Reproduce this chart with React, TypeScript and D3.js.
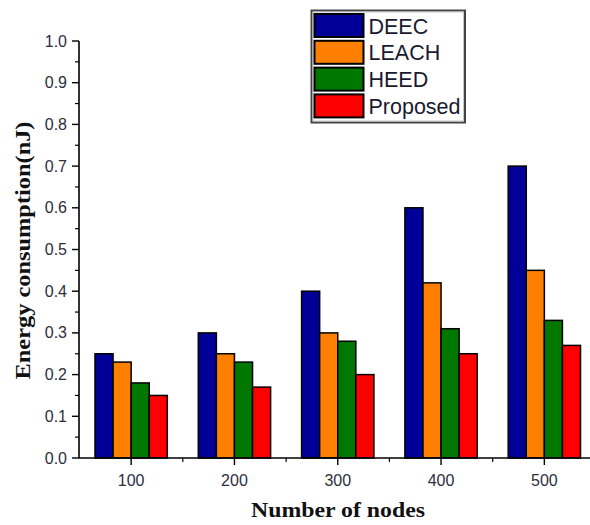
import React from "react";
import * as d3 from "d3";

const categories = [100, 200, 300, 400, 500];
const seriesNames = ["DEEC", "LEACH", "HEED", "Proposed"];
const deec = [0.25, 0.3, 0.4, 0.6, 0.7];
const leach = [0.23, 0.25, 0.3, 0.42, 0.45];
const heed = [0.18, 0.23, 0.28, 0.31, 0.33];
const proposed = [0.15, 0.17, 0.2, 0.25, 0.27];
const seriesValues = [deec, leach, heed, proposed];
const colors = ["#000099", "#ff8000", "#007800", "#ff0000"];
const yMajorTicks = [0, 0.1, 0.2, 0.3, 0.4, 0.5, 0.6, 0.7, 0.8, 0.9, 1.0];
const yMinorTicks = [0.05, 0.15, 0.25, 0.35, 0.45, 0.55, 0.65, 0.75, 0.85, 0.95];
const xMinorTicks = [150, 250, 350, 450];

const W = 590;
const H = 525;

export default function App() {
  const x = d3.scaleLinear().domain([50, 550]).range([79.5, 596]);
  const y = d3.scaleLinear().domain([0, 1]).range([458, 41]);
  const groupWidth = 70;
  const barW = groupWidth / seriesNames.length;
  const barPx = x(barW) - x(0);
  const axisFont = "'Liberation Sans', Arial, sans-serif";
  const titleFont = "'Liberation Serif', 'Times New Roman', serif";
  const textColor = "#2e2e3e";

  return (
    <svg
      width={W}
      height={H}
      style={{ position: "absolute", left: 0, top: 0, background: "#fff" }}
    >
      <rect x={0} y={0} width={W} height={H} fill="#fff" />
      {/* bars */}
      {seriesValues.map((vals, si) =>
        vals.map((v, ci) => (
          <rect
            key={`b-${si}-${ci}`}
            x={x(categories[ci] - groupWidth / 2 + si * barW)}
            y={y(v)}
            width={barPx}
            height={y(0) - y(v)}
            fill={colors[si]}
            stroke="#000"
            strokeWidth={1.5}
          />
        ))
      )}
      {/* y axis */}
      <line x1={79} x2={79} y1={y(1)} y2={y(0)} stroke="#000" strokeWidth={1.6} />
      {yMajorTicks.map((t) => (
        <g key={`ym-${t}`}>
          <line x1={72} x2={79} y1={y(t)} y2={y(t)} stroke="#000" strokeWidth={1.4} />
          <text
            x={67}
            y={y(t) + 5.5}
            textAnchor="end"
            fontFamily={axisFont}
            fontSize={16}
            fill={textColor}
          >
            {t.toFixed(1)}
          </text>
        </g>
      ))}
      {yMinorTicks.map((t) => (
        <line key={`yn-${t}`} x1={75} x2={79} y1={y(t)} y2={y(t)} stroke="#000" strokeWidth={1.2} />
      ))}
      {/* x axis */}
      <line x1={79} x2={W} y1={y(0)} y2={y(0)} stroke="#000" strokeWidth={1.6} />
      {categories.map((c) => (
        <g key={`xm-${c}`}>
          <line x1={x(c)} x2={x(c)} y1={y(0)} y2={y(0) + 7} stroke="#000" strokeWidth={1.4} />
          <text
            x={x(c)}
            y={485.5}
            textAnchor="middle"
            fontFamily={axisFont}
            fontSize={16}
            fill={textColor}
          >
            {c}
          </text>
        </g>
      ))}
      {xMinorTicks.map((c) => (
        <line key={`xn-${c}`} x1={x(c)} x2={x(c)} y1={y(0)} y2={y(0) + 4} stroke="#000" strokeWidth={1.2} />
      ))}
      {/* axis titles */}
      <text
        x={338}
        y={517}
        textAnchor="middle"
        fontFamily={titleFont}
        fontWeight="bold"
        fontSize={21}
        textLength={174}
        lengthAdjust="spacingAndGlyphs"
        fill="#111"
      >
        Number of nodes
      </text>
      <text
        transform={`translate(30, ${(y(0) + y(1)) / 2 + 1}) rotate(-90)`}
        textAnchor="middle"
        fontFamily={titleFont}
        fontWeight="bold"
        fontSize={21}
        textLength={258}
        lengthAdjust="spacingAndGlyphs"
        fill="#111"
      >
        Energy consumption(nJ)
      </text>
      {/* legend */}
      <rect x={311.5} y={10.5} width={153.5} height={112} fill="#fff" stroke="#444" strokeWidth={2} />
      <rect x={313} y={12} width={150.5} height={109} fill="none" stroke="#bbb" strokeWidth={0.8} />
      {seriesNames.map((name, i) => {
        const top = 14 + i * 26.8;
        return (
          <g key={`lg-${name}`}>
            <rect x={314.5} y={top} width={49} height={23} fill={colors[i]} stroke="#000" strokeWidth={2} />
            <text
              x={368.5}
              y={top + 19.5}
              fontFamily={axisFont}
              fontSize={21.5}
              fill="#1a1a30"
            >
              {name}
            </text>
          </g>
        );
      })}
    </svg>
  );
}
